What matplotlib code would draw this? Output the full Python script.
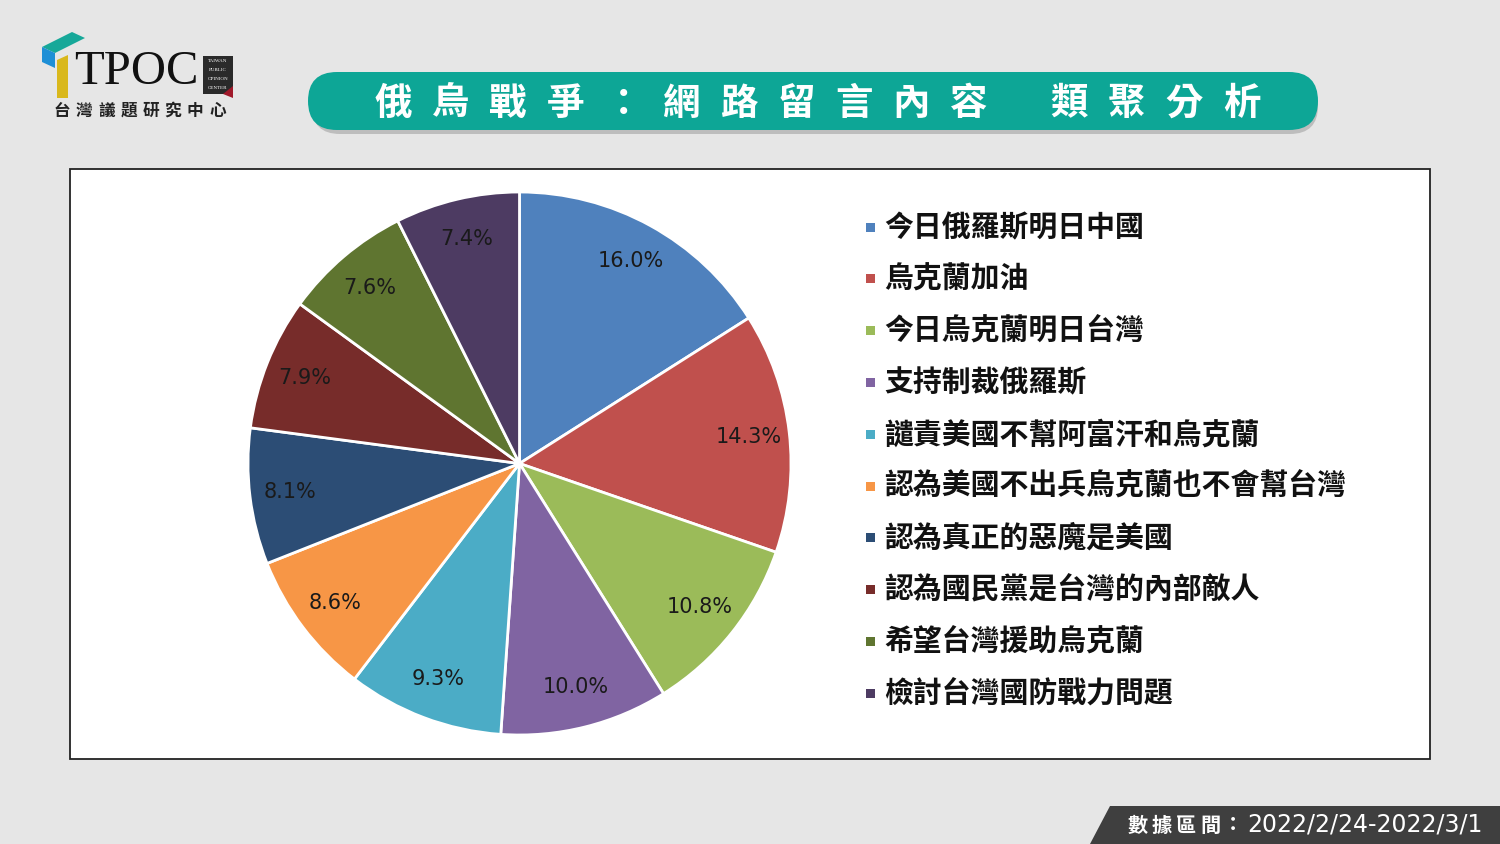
import matplotlib.pyplot as plt
from matplotlib.patches import Rectangle, FancyBboxPatch, Polygon

plt.rcParams['font.family'] = ['Noto Sans CJK TC', 'DejaVu Sans']

# data
labels = ["今日俄羅斯明日中國", "烏克蘭加油", "今日烏克蘭明日台灣", "支持制裁俄羅斯",
          "譴責美國不幫阿富汗和烏克蘭", "認為美國不出兵烏克蘭也不會幫台灣",
          "認為真正的惡魔是美國", "認為國民黨是台灣的內部敵人",
          "希望台灣援助烏克蘭", "檢討台灣國防戰力問題"]
shares = [16.0, 14.3, 10.8, 10.0, 9.3, 8.6, 8.1, 7.9, 7.6, 7.4]
colors = ["#4F81BD", "#C0504D", "#9BBB59", "#8064A2", "#4BACC6",
          "#F79646", "#2C4D75", "#772C2A", "#5F7530", "#4D3B62"]
title_chars = "俄烏戰爭：網路留言內容"
title_chars2 = "類聚分析"
date_head = "數據區間"
date_range = "2022/2/24-2022/3/1"

W, H = 1500, 844
fig = plt.figure(figsize=(15, 8.44), dpi=100)
fig.patch.set_facecolor("#E6E6E6")

# background layer in pixel coordinates
bg = fig.add_axes([0, 0, 1, 1])
bg.set_xlim(0, W)
bg.set_ylim(H, 0)
bg.axis("off")

# white chart box
bg.add_patch(Rectangle((70, 169), 1360, 590, facecolor="white", edgecolor="#222222", lw=1.3))

# title banner with shadow
bg.add_patch(FancyBboxPatch((312, 78), 1006, 56, boxstyle="round,pad=0,rounding_size=28",
                            facecolor="#BDBDBD", edgecolor="none"))
bg.add_patch(FancyBboxPatch((308, 72), 1010, 58, boxstyle="round,pad=0,rounding_size=29",
                            facecolor="#0DA696", edgecolor="none"))
step = 57.6
for i, ch in enumerate(title_chars):
    bg.text(393 + i * step, 103, ch, color="white", fontsize=27, fontweight="bold",
            ha="center", va="center")
for i, ch in enumerate(title_chars2):
    bg.text(1069 + i * step, 103, ch, color="white", fontsize=27, fontweight="bold",
            ha="center", va="center")

# logo
bg.add_patch(Polygon([(42, 47), (72, 32), (85, 38), (55, 53)], facecolor="#17A899", edgecolor="none"))
bg.add_patch(Polygon([(42, 47), (55, 53), (55, 68), (42, 62)], facecolor="#1E8FD6", edgecolor="none"))
bg.add_patch(Polygon([(57, 60), (68, 55), (68, 98), (57, 98)], facecolor="#D9B81C", edgecolor="none"))
bg.text(136, 72, "TPOC", family="Liberation Serif", fontsize=35, ha="center", va="center",
        color="#111111")
bg.add_patch(Rectangle((203, 56), 30, 38, facecolor="#2A2A2A", edgecolor="none"))
bg.add_patch(Polygon([(223, 94), (233, 86), (233, 98)], facecolor="#A0192A", edgecolor="none"))
for i, w in enumerate(["TAIWAN", "PUBLIC", "OPINION", "CENTER"]):
    bg.text(218, 61 + i * 9, w, family="Liberation Serif", fontsize=3.6, color="white",
            ha="center", va="center")
for i, ch in enumerate("台灣議題研究中心"):
    bg.text(62 + i * 22.2, 111, ch, fontsize=12, fontweight="bold", color="#222222",
            ha="center", va="center")

# date tag
bg.add_patch(Polygon([(1090, 844), (1110, 806), (1500, 806), (1500, 844)],
                     facecolor="#3F3F3F", edgecolor="none"))
for i, ch in enumerate(date_head):
    bg.text(1138 + i * 24, 825, ch, color="white", fontsize=14.5, fontweight="bold",
            ha="center", va="center")
bg.text(1233, 825, "：", color="white", fontsize=14.5, fontweight="bold",
        ha="center", va="center")
bg.text(1247, 825, date_range, color="white", fontsize=17, family="DejaVu Sans",
        ha="left", va="center")

# legend
for i, (lab, c) in enumerate(zip(labels, colors)):
    y = 227 + i * 51.8
    bg.add_patch(Rectangle((866, y - 4.5), 9, 9, facecolor=c, edgecolor="none"))
    bg.text(884, y, lab, fontsize=20.8, fontweight="bold", color="#111111",
            ha="left", va="center")

# pie
cx, cy, r = 519.5, 463.5, 271.5
ax = fig.add_axes([(cx - r) / W, (H - cy - r) / H, 2 * r / W, 2 * r / H])
wedges, texts, autotexts = ax.pie(
    shares, colors=colors, startangle=90, counterclock=False, radius=1,
    autopct="%.1f%%", pctdistance=0.85,
    wedgeprops=dict(edgecolor="white", linewidth=2),
    textprops=dict(fontsize=15, color="#1a1a1a", family="DejaVu Sans"))
ax.set_xlim(-1, 1)
ax.set_ylim(-1, 1)
ax.axis("off")

fig.savefig("out.png", dpi=100, facecolor=fig.get_facecolor())
